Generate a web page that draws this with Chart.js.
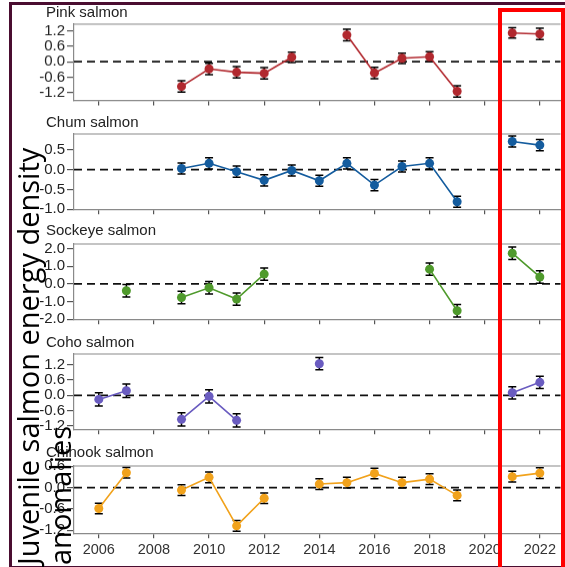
<!DOCTYPE html>
<html><head><meta charset="utf-8">
<script src="https://cdn.jsdelivr.net/npm/chart.js@4"></script>
<style>
html,body{margin:0;padding:0;background:#fff;width:565px;height:567px;overflow:hidden;}
#wrap{position:relative;width:565px;height:567px;overflow:hidden;}
#frame{position:absolute;left:9px;top:2px;width:640px;height:561px;border:3px solid #4a0d30;border-right:none;}
.panel{position:absolute;left:20px;width:545px;}
.ptitle{position:absolute;left:46px;font:15px "Liberation Sans",Arial,sans-serif;color:#222;line-height:16px;white-space:nowrap;}
#redbox{position:absolute;left:498px;top:8px;width:67px;height:580px;box-sizing:border-box;border:4px solid #ff0000;}
#ytitle{position:absolute;left:12px;top:565px;transform-origin:0 0;transform:rotate(-90deg);font:29px "Open Sans",sans-serif;line-height:32px;color:#000;white-space:nowrap;}
</style></head>
<body><div id="wrap">
<div id="frame"></div>
</div>
<script>
const years = [2006,2007,2008,2009,2010,2011,2012,2013,2014,2015,2016,2017,2018,2019,2020,2021,2022];
const xTicks = [2006,2008,2010,2012,2014,2016,2018,2020,2022];

const pink     = [null,null,null,-0.96,-0.28,-0.41,-0.45,0.17,null,1.03,-0.44,0.13,0.19,-1.15,null,1.11,1.07];
const pinkErr  = [null,null,null,0.22,0.22,0.22,0.22,0.20,null,0.22,0.22,0.20,0.20,0.22,null,0.20,0.22];
const chum     = [null,null,null,0.03,0.16,-0.05,-0.27,-0.02,-0.28,0.16,-0.39,0.08,0.16,-0.81,null,0.71,0.62];
const chumErr  = [null,null,null,0.14,0.14,0.14,0.14,0.14,0.14,0.14,0.14,0.14,0.14,0.14,null,0.14,0.14];
const sockeye  = [null,-0.39,null,-0.77,-0.22,-0.86,0.55,null,null,null,null,null,0.83,-1.52,null,1.73,0.39];
const sockeyeErr=[null,0.35,null,0.35,0.35,0.35,0.35,null,null,null,null,null,0.35,0.35,null,0.35,0.35];
const coho     = [-0.16,0.18,null,-0.94,-0.04,-0.98,null,null,1.24,null,null,null,null,null,null,0.10,0.51];
const cohoErr  = [0.26,0.26,null,0.26,0.26,0.26,null,null,0.24,null,null,null,null,null,null,0.24,0.24];
const chinook  = [-0.59,0.42,null,-0.07,0.29,-1.08,-0.30,null,0.10,0.14,0.40,0.14,0.24,-0.22,null,0.31,0.41];
const chinookErr=[0.15,0.15,null,0.15,0.15,0.15,0.15,null,0.15,0.15,0.15,0.15,0.15,0.15,null,0.15,0.15];

const pinkTicks = [-1.2,-0.6,0,0.6,1.2];
const chumTicks = [-1.0,-0.5,0,0.5];
const sockeyeTicks = [-2,-1,0,1,2];
const cohoTicks = [-1.2,-0.6,0,0.6,1.2];
const chinookTicks = [-1.2,-0.6,0,0.6];

const panels = [
  {title:'Pink salmon', vals:pink, err:pinkErr, ticks:pinkTicks, color:'#b1282e', min:-1.5, max:1.45, top:24, h:75.5, titleY:4},
  {title:'Chum salmon', vals:chum, err:chumErr, ticks:chumTicks, color:'#145c9e', min:-1.0, max:0.9, top:134, h:75.3, titleY:114},
  {title:'Sockeye salmon', vals:sockeye, err:sockeyeErr, ticks:sockeyeTicks, color:'#4f9a2c', min:-2.0, max:2.25, top:244, h:75.3, titleY:222},
  {title:'Coho salmon', vals:coho, err:cohoErr, ticks:cohoTicks, color:'#6a5cc0', min:-1.33, max:1.62, top:354, h:75.3, titleY:334},
  {title:'Chinook salmon', vals:chinook, err:chinookErr, ticks:chinookTicks, color:'#f1a21c', min:-1.29, max:0.61, top:466, h:67.3, titleY:444, bottom:true}
];

const PADT = 12, PADB = 4;
const wrap = document.getElementById('wrap');

const decor = {
  id:'decor',
  beforeDatasetsDraw(chart){
    const {ctx, chartArea:a, scales:{x, y}} = chart;
    ctx.save();
    // top frame line
    ctx.strokeStyle = '#8a8a8a'; ctx.lineWidth = 1.2;
    ctx.beginPath(); ctx.moveTo(a.left, a.top); ctx.lineTo(a.right, a.top); ctx.stroke();
    // zero dashed line
    const y0 = y.getPixelForValue(0);
    ctx.strokeStyle = '#111'; ctx.lineWidth = 1.8; ctx.setLineDash([8,5]);
    ctx.beginPath(); ctx.moveTo(a.left, y0); ctx.lineTo(a.right, y0); ctx.stroke();
    ctx.setLineDash([]);
    // error bars
    chart.data.datasets.forEach(ds => {
      ds.data.forEach((p, i) => {
        if (p.y === null || ds.errors[i] === null) return;
        const px = x.getPixelForValue(p.x);
        const yt = y.getPixelForValue(p.y + ds.errors[i]);
        const yb = y.getPixelForValue(p.y - ds.errors[i]);
        ctx.strokeStyle = '#000'; ctx.lineWidth = 1.5;
        ctx.beginPath();
        ctx.moveTo(px, yt); ctx.lineTo(px, yb);
        ctx.moveTo(px-4, yt); ctx.lineTo(px+4, yt);
        ctx.moveTo(px-4, yb); ctx.lineTo(px+4, yb);
        ctx.stroke();
      });
    });
    ctx.restore();
  }
};

panels.forEach(p => {
  const axisH = p.bottom ? 30 : 6;
  const div = document.createElement('div');
  div.className = 'panel';
  div.style.top = (p.top - PADT) + 'px';
  div.style.height = (PADT + p.h + axisH + PADB) + 'px';
  const cv = document.createElement('canvas');
  div.appendChild(cv);
  wrap.appendChild(div);
  const t = document.createElement('div');
  t.className = 'ptitle';
  t.style.top = p.titleY + 'px';
  t.textContent = p.title;
  wrap.appendChild(t);

  new Chart(cv, {
    type:'line',
    data:{ datasets:[{
      data: years.map((yr,i)=>({x:yr, y:p.vals[i]})),
      errors: p.err,
      borderColor:p.color, backgroundColor:p.color,
      pointBackgroundColor:p.color, pointBorderColor:p.color,
      pointRadius:4.5, pointBorderWidth:0, borderWidth:1.6,
      spanGaps:false, tension:0
    }]},
    options:{
      responsive:true, maintainAspectRatio:false, animation:false,
      layout:{padding:{top:PADT, bottom:PADB, left:0, right:0}},
      plugins:{legend:{display:false}, tooltip:{enabled:false}},
      scales:{
        x:{
          type:'linear', min:2005.1, max:2022.75,
          afterBuildTicks(s){ s.ticks = xTicks.map(v=>({value:v})); },
          afterFit(s){ s.height = axisH; s.paddingLeft=0; s.paddingRight=0; s.paddingTop=0; s.paddingBottom=0; },
          grid:{drawOnChartArea:false, drawTicks:true, tickLength:5, tickColor:'#555', lineWidth:1.2},
          border:{display:true, color:'#8a8a8a', width:1.2},
          ticks:{display:!!p.bottom, padding:3, color:'#333', maxRotation:0, autoSkip:false,
            font:{family:'"Liberation Sans", Arial, sans-serif', size:14.5},
            callback:v=>String(v)}
        },
        y:{
          min:p.min, max:p.max,
          afterBuildTicks(s){ s.ticks = p.ticks.map(v=>({value:v})); },
          afterFit(s){ s.width = 54; s.paddingLeft=0; s.paddingRight=0; s.paddingTop=0; s.paddingBottom=0; },
          grid:{drawOnChartArea:false, drawTicks:true, tickLength:7, tickColor:'#555', lineWidth:1.2},
          border:{display:true, color:'#8a8a8a', width:1.2},
          ticks:{padding:2, color:'#222', autoSkip:false,
            font:{family:'"Liberation Sans", Arial, sans-serif', size:15},
            callback:v=>Number(v).toFixed(1)}
        }
      }
    },
    plugins:[decor]
  });
});

const yt = document.createElement('div');
yt.id = 'ytitle';
yt.innerHTML = 'Juvenile salmon energy density<br>anomalies';
wrap.appendChild(yt);
const rb = document.createElement('div');
rb.id = 'redbox';
wrap.appendChild(rb);
</script>
</body></html>
